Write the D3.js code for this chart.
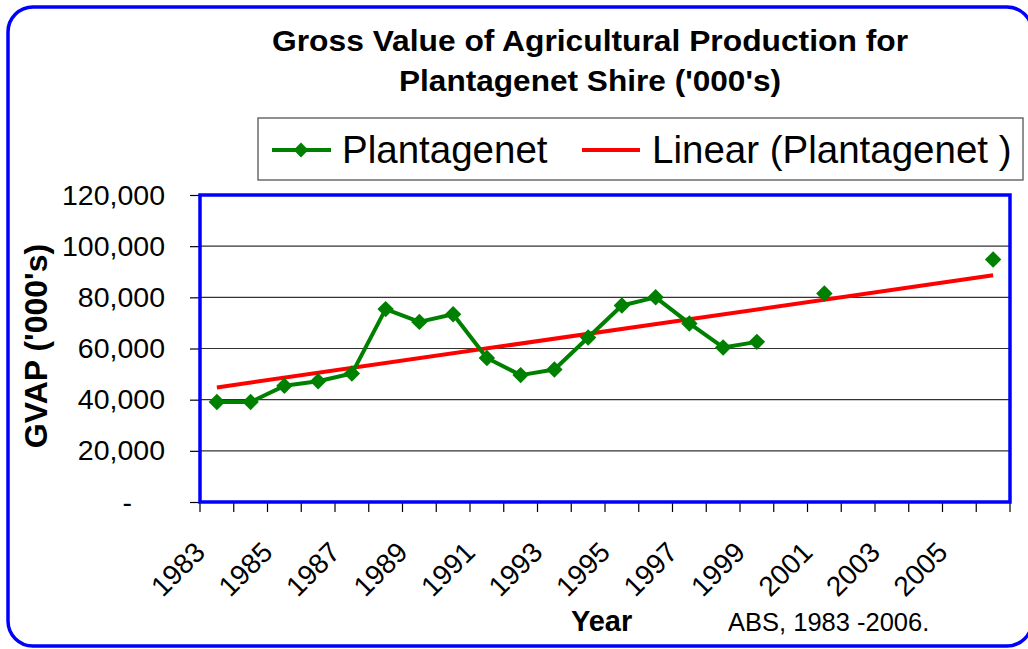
<!DOCTYPE html>
<html>
<head>
<meta charset="utf-8">
<script src="https://cdn.jsdelivr.net/npm/d3@7/dist/d3.min.js"></script>
<style>
  html, body { margin: 0; padding: 0; background: #fff; }
  svg { display: block; font-family: "Liberation Sans", Arial, Helvetica, sans-serif; }
</style>
</head>
<body>
<svg id="chart" width="1028" height="649"></svg>
<script>
// ---- data ----
const years = [1983,1984,1985,1986,1987,1988,1989,1990,1991,1992,1993,1994,1995,
               1996,1997,1998,1999,2000,2001,2002,2003,2004,2005,2006];
const gvap  = [39100,39100,45400,47200,50200,75400,70400,73400,56300,49600,51800,64300,76800,
               80000,69800,60400,62600,null,81500,null,null,null,null,94800];
const xTickLabels = [1983,1985,1987,1989,1991,1993,1995,1997,1999,2001,2003,2005];
const yTickValues = [0,20000,40000,60000,80000,100000,120000];
const yTickLabels = ["-","20,000","40,000","60,000","80,000","100,000","120,000"];
const seriesName = "Plantagenet";
const trendName = "Linear (Plantagenet )";
const titleLines = ["Gross Value of Agricultural Production for", "Plantagenet Shire ('000's)"];

// ---- layout ----
const svg = d3.select("#chart");
const P = {left: 200, right: 1010, top: 195, bottom: 502};
const GREEN = "#008000", RED = "#ff0000", BLUE = "#0000ff";

const x = d3.scaleBand().domain(years).range([P.left, P.right]).padding(0);
const y = d3.scaleLinear().domain([0, 120000]).range([P.bottom, P.top]);
const cx = yr => x(yr) + x.bandwidth() / 2;

// outer rounded border
svg.append("rect").attr("x", 8).attr("y", 7).attr("width", 1024).attr("height", 639)
  .attr("rx", 25).attr("ry", 25).attr("fill", "none").attr("stroke", BLUE).attr("stroke-width", 3.5);

// title
const titleWidths = [636, 382];
svg.append("g").selectAll("text").data(titleLines).join("text")
  .attr("x", 590).attr("y", (d, i) => 51 + i * 40)
  .attr("text-anchor", "middle").attr("font-weight", "bold").attr("font-size", 30)
  .attr("textLength", (d, i) => titleWidths[i]).attr("lengthAdjust", "spacingAndGlyphs")
  .attr("fill", "#000").text(d => d);

// legend
const lg = svg.append("g");
lg.append("rect").attr("x", 258).attr("y", 118).attr("width", 765).attr("height", 62)
  .attr("fill", "#fff").attr("stroke", "#555").attr("stroke-width", 1.3);
lg.append("line").attr("x1", 272).attr("x2", 331).attr("y1", 150).attr("y2", 150)
  .attr("stroke", GREEN).attr("stroke-width", 4);
lg.append("path").attr("d", d3.symbol(d3.symbolSquare, 110)())
  .attr("transform", "translate(301,150) rotate(45)").attr("fill", GREEN);
lg.append("text").attr("x", 342).attr("y", 163).attr("font-size", 38.5).text(seriesName);
lg.append("line").attr("x1", 582).attr("x2", 640).attr("y1", 150).attr("y2", 150)
  .attr("stroke", RED).attr("stroke-width", 4);
lg.append("text").attr("x", 652).attr("y", 163).attr("font-size", 38.5).text(trendName);

// gridlines
svg.append("g").selectAll("line").data(yTickValues.filter(v => v > 0 && v < 120000)).join("line")
  .attr("x1", P.left).attr("x2", P.right).attr("y1", d => y(d)).attr("y2", d => y(d))
  .attr("stroke", "#333").attr("stroke-width", 1.2);

// y axis
const yAxis = svg.append("g").attr("transform", `translate(${P.left},0)`)
  .call(d3.axisLeft(y).tickValues(yTickValues).tickSize(10).tickPadding(25)
    .tickFormat((d, i) => yTickLabels[i]));
yAxis.select(".domain").remove();
yAxis.selectAll(".tick line").attr("stroke", "#000").attr("stroke-width", 1.2);
yAxis.selectAll(".tick text").attr("font-size", 28.5).attr("fill", "#000")
  .attr("font-family", "Liberation Sans, Arial, sans-serif")
  .attr("dx", (d, i) => yTickLabels[i] === "-" ? -33 : 0);

// x tick marks at category boundaries
const bounds = years.map(yr => x(yr)).concat([P.right]);
svg.append("g").selectAll("line").data(bounds).join("line")
  .attr("x1", d => d).attr("x2", d => d).attr("y1", P.bottom).attr("y2", P.bottom + 10)
  .attr("stroke", "#000").attr("stroke-width", 1.2);

// x labels rotated
svg.append("g").selectAll("text").data(xTickLabels).join("text")
  .attr("transform", d => `translate(${cx(d) - 10},554) rotate(-45)`)
  .attr("text-anchor", "end").attr("font-size", 28).attr("fill", "#000").text(d => d);

// plot area border
svg.append("rect").attr("x", P.left).attr("y", P.top)
  .attr("width", P.right - P.left).attr("height", P.bottom - P.top)
  .attr("fill", "none").attr("stroke", BLUE).attr("stroke-width", 3.5);

// trendline (least squares over category index, excluding missing)
const pts = years.map((yr, i) => ({i, yr, v: gvap[i]}));
const valid = pts.filter(p => p.v != null);
const mx = d3.mean(valid, p => p.i), my = d3.mean(valid, p => p.v);
const slope = d3.sum(valid, p => (p.i - mx) * (p.v - my)) / d3.sum(valid, p => (p.i - mx) ** 2);
const icpt = my - slope * mx;
const trend = [years[0], years[years.length - 1]].map(yr => ({yr, v: icpt + slope * years.indexOf(yr)}));
svg.append("path").datum(trend)
  .attr("d", d3.line().x(d => cx(d.yr)).y(d => y(d.v)))
  .attr("fill", "none").attr("stroke", RED).attr("stroke-width", 4);

// series line
svg.append("path").datum(pts)
  .attr("d", d3.line().defined(d => d.v != null).x(d => cx(d.yr)).y(d => y(d.v)))
  .attr("fill", "none").attr("stroke", GREEN).attr("stroke-width", 4).attr("stroke-linejoin", "round");

// markers
svg.append("g").selectAll("path").data(valid).join("path")
  .attr("d", d3.symbol(d3.symbolSquare, 135)())
  .attr("transform", d => `translate(${cx(d.yr)},${y(d.v)}) rotate(45)`)
  .attr("fill", GREEN);

// axis titles
svg.append("text").attr("transform", "translate(47,346) rotate(-90)")
  .attr("text-anchor", "middle").attr("font-weight", "bold").attr("font-size", 32)
  .text("GVAP ('000's)");
svg.append("text").attr("x", 571).attr("y", 631).attr("font-weight", "bold").attr("font-size", 29)
  .text("Year");
svg.append("text").attr("x", 728).attr("y", 631).attr("font-size", 25.5)
  .text("ABS, 1983 -2006.");
</script>
</body>
</html>
